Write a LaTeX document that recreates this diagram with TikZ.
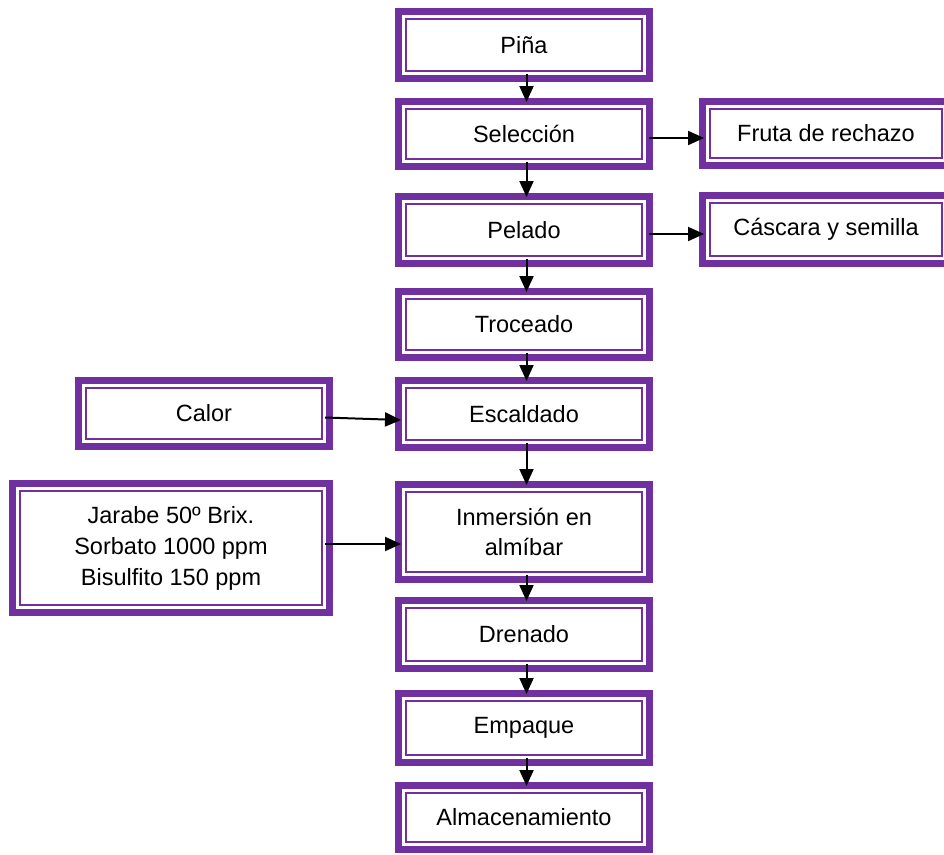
\documentclass[tikz,border=0pt]{standalone}
\usepackage{fontspec}
\setmainfont{Liberation Sans}
\usetikzlibrary{arrows.meta,calc}
\definecolor{vio}{HTML}{7030A0}

\tikzset{
  procbox/.style n args={2}{
    draw=vio, line width=7pt, fill=white, inner sep=0pt, align=center,
    minimum width=#1, minimum height=#2,
    font=\fontsize{23.5}{30.5}\selectfont
  },
  innerline/.style={draw=vio, line width=2.5pt},
  flow/.style={draw=black, line width=2pt,
    -{Triangle[length=16pt,width=14pt]}}
}

\begin{document}
\begin{tikzpicture}[x=1pt,y=-1pt]
  \useasboundingbox (0,0) rectangle (944,854);
  \fill[white] (0,0) rectangle (944,854);
  \clip (0,0) rectangle (944,854);

  % main process column
  \node[procbox={251pt}{67pt}] (pina) at (524,45) {Piña};
  \node[procbox={251pt}{65pt}] (sel)  at (524,134) {Selección};
  \node[procbox={251pt}{67pt}] (pel)  at (524,230) {Pelado};
  \node[procbox={251pt}{66pt}] (tro)  at (524,324.5) {Troceado};
  \node[procbox={251pt}{67pt}] (esc)  at (524,414) {Escaldado};
  \node[procbox={251pt}{95pt}] (inm)  at (524,532) {Inmersión en\\almíbar};
  \node[procbox={251pt}{68pt}] (dre)  at (524,634.5) {Drenado};
  \node[procbox={251pt}{69pt}] (emp)  at (524,728) {Empaque};
  \node[procbox={251pt}{64pt}] (alm)  at (524,817.5) {Almacenamiento};

  % outputs on the right
  \node[procbox={247pt}{64pt}] (fru) at (826,133.5) {Fruta de rechazo};
  \node[procbox={247pt}{68pt}] (cas) at (826,229.5) {Cáscara y semilla};

  % inputs on the left
  \node[procbox={251pt}{66pt}] (cal) at (204,413.5) {Calor};
  \node[procbox={317pt}{129pt},font=\fontsize{23.5}{31}\selectfont] (jar) at (171,548)
    {Jarabe 50º Brix.\\Sorbato 1000 ppm\\Bisulfito 150 ppm};

  % thin inner frame of every box (anchors sit on the outer edge)
  \foreach \n in {pina,sel,pel,tro,esc,inm,dre,emp,alm,fru,cas,cal,jar}{
    \draw[innerline] ($(\n.north west)+(10.8,10.8)$) rectangle ($(\n.south east)+(-10.8,-10.8)$);
  }

  % vertical flow
  \foreach \a/\b in {pina/sel, sel/pel, pel/tro, tro/esc, esc/inm, inm/dre, dre/emp, emp/alm}
    \draw[flow] ($(\a.south)+(2.5,-8)$) -- ($(\b.north)+(2.5,4)$);

  % side flows
  \draw[flow] ($(sel.east)+(-4,4)$) -- ($(sel.east -| fru.west)+(5,4)$);
  \draw[flow] ($(pel.east)+(-4,4)$) -- ($(pel.east -| cas.west)+(5,4)$);
  \draw[flow] ($(cal.east)+(-8,4)$) -- ($(esc.west)+(6,6)$);
  \draw[flow] ($(jar.east)+(-8,-4)$) -- ($(jar.east -| inm.west)+(6,-4)$);
\end{tikzpicture}
\end{document}
